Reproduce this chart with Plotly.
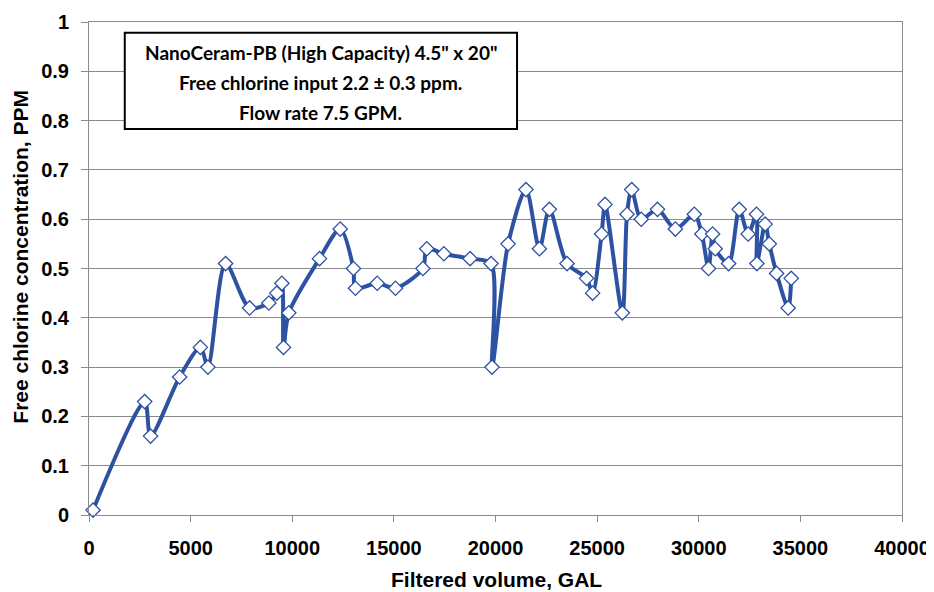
import plotly.graph_objects as go

# Filtered volume (gal) and free chlorine (ppm)
volume_gal = [200, 2740, 3030, 4460, 5480, 5850, 6720,
              7900, 8850, 9240, 9490, 9570, 9830, 11340,
              12360, 13010, 13110, 14180, 15080, 16430, 16620,
              17460, 18750, 19780, 19830, 20620, 21500, 22160,
              22650, 23520, 24480, 24780, 25220, 25390, 26240,
              26470, 26700, 27170, 27970, 28850, 29780, 30150,
              30480, 30680, 30810, 31470, 31990, 32430, 32840,
              32860, 33270, 33470, 33830, 34400, 34550]
chlorine_ppm = [0.01, 0.23, 0.16, 0.28, 0.34, 0.30, 0.51,
                0.42, 0.43, 0.45, 0.47, 0.34, 0.41, 0.52,
                0.58, 0.50, 0.46, 0.47, 0.46, 0.50, 0.54,
                0.53, 0.52, 0.51, 0.30, 0.55, 0.66, 0.54,
                0.62, 0.51, 0.48, 0.45, 0.57, 0.63, 0.41,
                0.61, 0.66, 0.60, 0.62, 0.58, 0.61, 0.57,
                0.50, 0.57, 0.54, 0.51, 0.62, 0.57, 0.61,
                0.51, 0.59, 0.55, 0.49, 0.42, 0.48]

x_ticks = [0, 5000, 10000, 15000, 20000, 25000, 30000, 35000, 40000]
y_ticks = [0, 0.1, 0.2, 0.3, 0.4, 0.5, 0.6, 0.7, 0.8, 0.9, 1]
y_tick_text = ["0", "0.1", "0.2", "0.3", "0.4", "0.5", "0.6", "0.7", "0.8", "0.9", "1"]

x_title = "Filtered volume, GAL"
y_title = "Free chlorine concentration, PPM"
box_lines = ['NanoCeram-PB (High Capacity) 4.5" x 20"',
             'Free chlorine input 2.2 ± 0.3 ppm.',
             'Flow rate 7.5 GPM.']

BLUE = "rgb(46,82,162)"
GRID = "#8a8a8a"
AX_FONT = "Liberation Sans, Arial, sans-serif"

fig = go.Figure()
fig.add_trace(go.Scatter(
    x=volume_gal, y=chlorine_ppm, mode="lines+markers",
    line=dict(color=BLUE, width=4, shape="spline", smoothing=0.8),
    marker=dict(symbol="diamond", size=11, color="white",
                line=dict(color=BLUE, width=1.3)),
    showlegend=False, cliponaxis=False,
))

# page body has an 8px margin at top/left: size the figure to reach the window edges
fig.update_layout(
    width=926, height=584,
    margin=dict(l=81, r=32, t=14, b=77),
    paper_bgcolor="white", plot_bgcolor="white",
    font=dict(family=AX_FONT, color="black"),
)
fig.update_xaxes(
    range=[0, 40000], tickvals=x_ticks, ticktext=["<b>%d</b>" % v for v in x_ticks],
    showgrid=False, zeroline=False, automargin=False,
    showline=True, linecolor=GRID, linewidth=1, mirror=True,
    ticks="outside", ticklen=6, tickcolor=GRID, ticklabelstandoff=9,
    ticklabeloverflow="allow",
    tickfont=dict(size=20, family=AX_FONT),
)
fig.update_yaxes(
    range=[0, 1], tickvals=y_ticks, ticktext=["<b>%s</b>" % t for t in y_tick_text],
    showgrid=True, gridcolor=GRID, gridwidth=1, zeroline=False, automargin=False,
    showline=True, linecolor=GRID, linewidth=1, mirror=True,
    ticks="outside", ticklen=7, tickcolor=GRID, ticklabelstandoff=8,
    ticklabeloverflow="allow",
    tickfont=dict(size=20, family=AX_FONT),
)

# axis titles
fig.add_annotation(text="<b>" + x_title + "</b>", xref="paper", yref="paper",
                   x=0.5015, y=-0.1318, xanchor="center", yanchor="middle",
                   showarrow=False, font=dict(size=21, family=AX_FONT, color="black"))
fig.add_annotation(text="<b>" + y_title + "</b>", xref="paper", yref="paper",
                   x=-0.0836, y=0.524, xanchor="center", yanchor="middle", textangle=-90,
                   showarrow=False, font=dict(size=21, family=AX_FONT, color="black"))

fig.add_shape(type="rect", xref="paper", yref="paper",
              x0=0.044, x1=0.5265, y0=0.783, y1=0.978,
              line=dict(color="black", width=2), fillcolor="white", layer="above")
for txt, yy in zip(box_lines, [0.939, 0.877, 0.8165]):
    fig.add_annotation(text="<b>" + txt + "</b>", xref="paper", yref="paper",
                       x=0.285, y=yy, xanchor="center", yanchor="middle",
                       showarrow=False, font=dict(size=19, family="Lato, sans-serif", color="black"))

fig.write_html("out.html")
